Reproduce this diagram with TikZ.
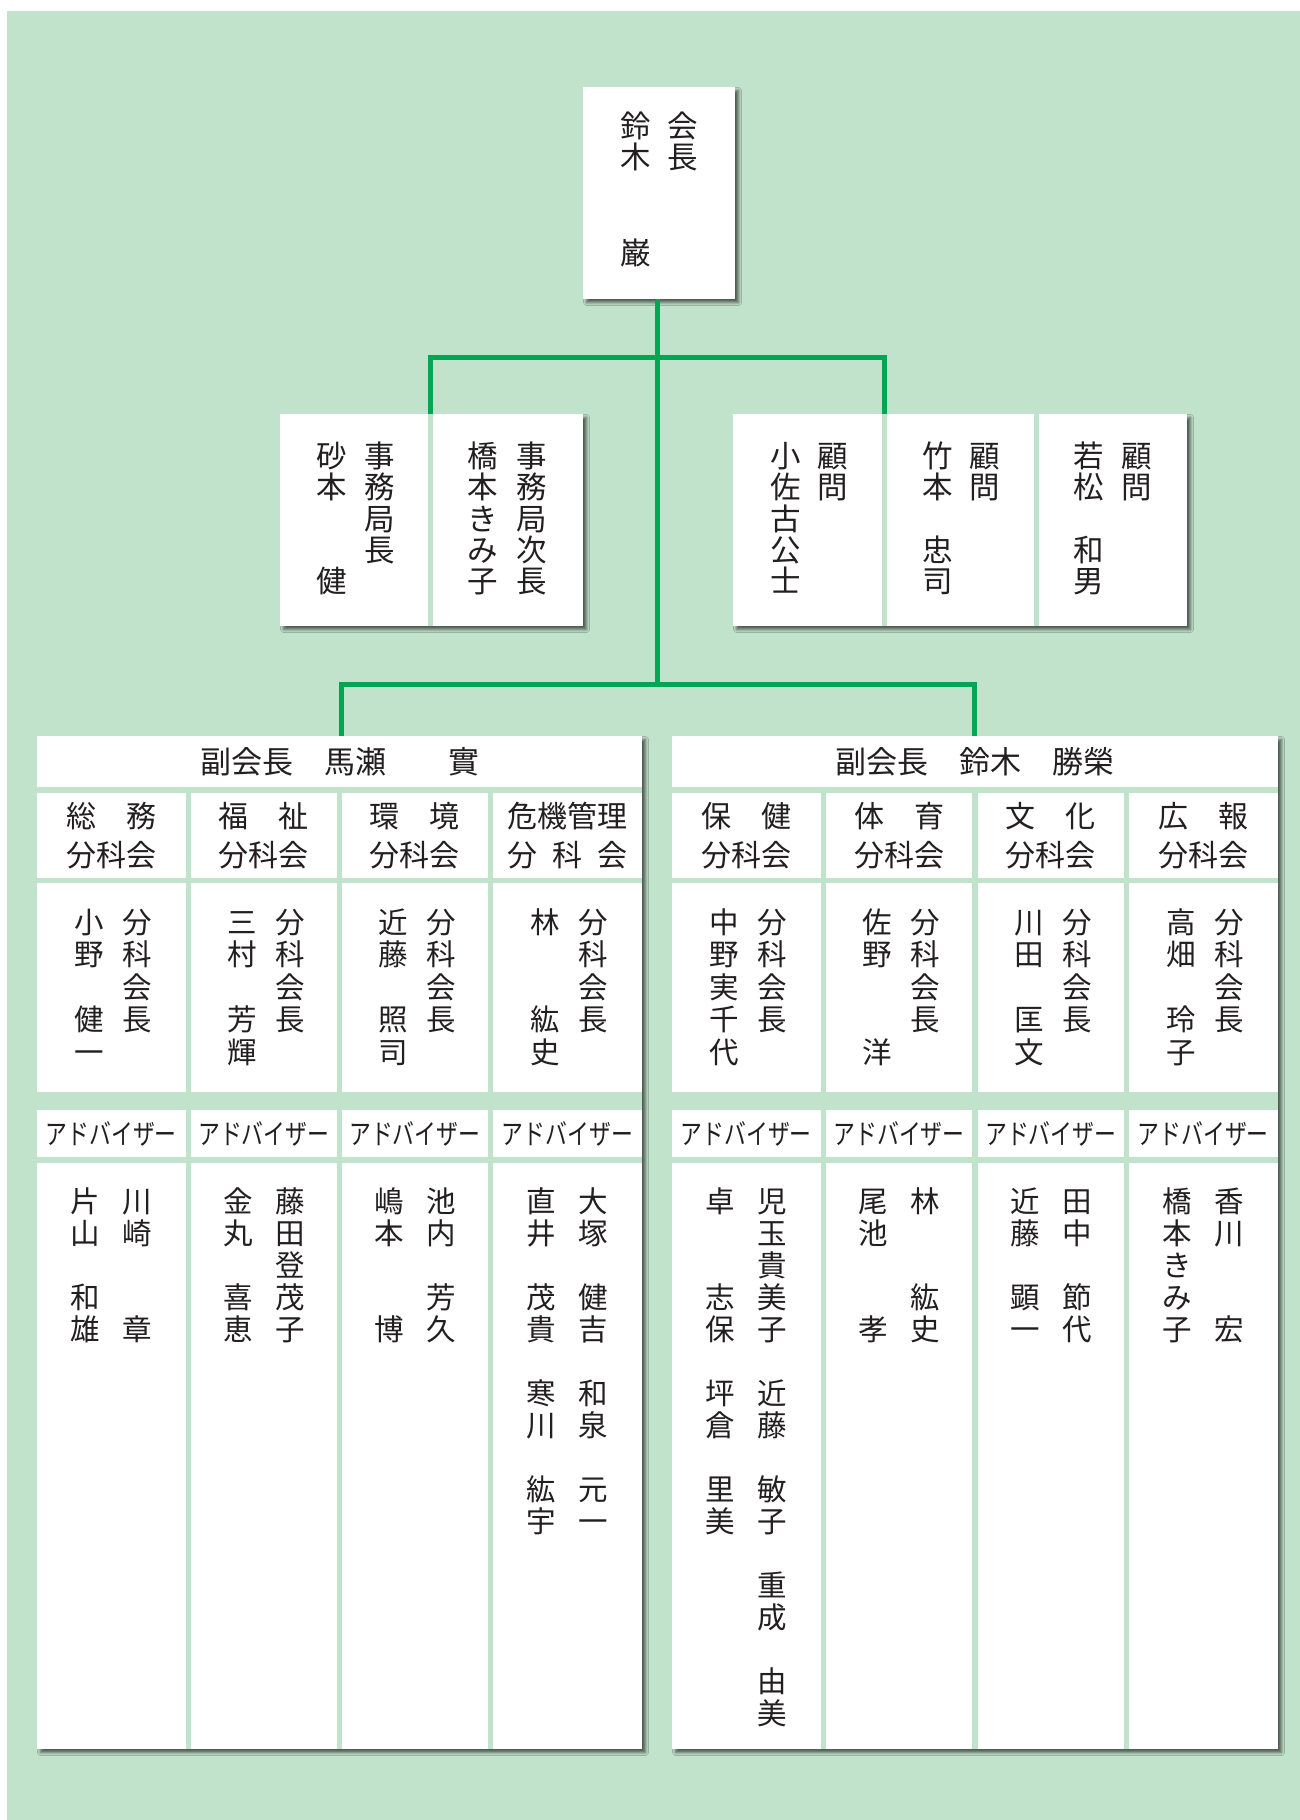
\documentclass[tikz,border=0pt]{standalone}
\usepackage{fontspec}
\newfontfamily\jp{Noto Sans CJK JP}
\usetikzlibrary{shadows.blur}
\definecolor{bgc}{RGB}{193,226,203}
\definecolor{lnc}{RGB}{0,166,81}
\definecolor{txc}{RGB}{35,31,32}
\def\fs{30.5}
\def\vfont{\jp\fontsize{\fs pt}{\fs pt}\selectfont}
\newcommand\vchars[1]{\ifx#1\relax\else\hbox to 1em{\hss\rule[-.12em]{0pt}{1em}#1\hss}\expandafter\vchars\fi}
% vertical column: name, x, y of first char centre, pitch, chars
\newcommand\vt[5]{\node[anchor=base,font=\vfont] (#1) at (#2,{#3+0.38*\fs}) {\vtop{\baselineskip=#4pt\lineskiplimit=-100pt\lineskip=0pt\vchars#5\relax}};}
% horizontal text: name, x, y centre, text
\newcommand\htx[4]{\node[anchor=base,font=\vfont] (#1) at (#2,{#3+0.38*\fs}) {#4};}
\begin{document}
\begin{tikzpicture}[x=1pt,y=-1pt,
  every node/.style={inner sep=0pt,outer sep=0pt,text=txc},
  box/.style={fill=white,draw=none,blur shadow={shadow xshift=3.5pt,shadow yshift=-3.5pt,shadow blur radius=3pt,shadow opacity=60}},
  conn/.style={draw=lnc,line width=5pt,line join=miter},
  sep/.style={fill=bgc}]
\useasboundingbox (0,0) rectangle (1300,1820);
\fill[white] (0,0) rectangle (1300,1820);
\fill[bgc] (7,11) rectangle (1300,1820);

% ---------- boxes ----------
\node[box,minimum width=152pt,minimum height=212pt] (top) at (659,193) {};
\node[box,minimum width=303pt,minimum height=212pt] (sec) at (431.5,520) {};
\node[box,minimum width=454pt,minimum height=212pt] (adv) at (960,520) {};
\node[box,minimum width=605pt,minimum height=1013pt] (vpL) at (339.5,1242.5) {};
\node[box,minimum width=606pt,minimum height=1013pt] (vpR) at (975,1242.5) {};

% dividers of upper boxes
\fill[sep] (428,414) rectangle (433,626);
\fill[sep] (882,414) rectangle (887,626);
\fill[sep] (1033.5,414) rectangle (1038.5,626);

% bands of lower boxes
\foreach \xa/\xb in {37/642,672/1278}{
  \fill[sep] (\xa,787) rectangle (\xb,792.5);
  \fill[sep] (\xa,877.5) rectangle (\xb,883);
  \fill[sep] (\xa,1091.5) rectangle (\xb,1110);
  \fill[sep] (\xa,1156.5) rectangle (\xb,1162.5);
}
\foreach \xa in {185.5,336.5,487.5,820.5,972,1123.5}{
  \fill[sep] (\xa,792) rectangle ({\xa+5.5},1749);
}

% ---------- connectors ----------
\coordinate (j1) at (657.5,357.5);
\coordinate (j2) at (657.5,684);
\coordinate (t0) at (top.south -| j1);
\coordinate (secA) at (430.5,414);
\coordinate (advA) at (884.5,414);
\coordinate (vpLA) at (341,736);
\coordinate (vpRA) at (974.5,736);
\draw[conn] (t0) -- (j2);
\draw[conn] (secA) |- (j1) -| (advA);
\draw[conn] (vpLA) |- (j2) -| (vpRA);

% ---------- top box ----------
\def\fs{30.5}
\vt{tA}{683}{126}{31}{会長}
\vt{tB}{636}{126}{31}{鈴木}
\vt{tC}{636}{253}{31}{巌}

% ---------- secretariat ----------
\vt{sA}{380}{456}{31.3}{事務局長}
\vt{sB}{331.7}{456}{31.3}{砂本}
\vt{sC}{331.7}{581.2}{31.3}{健}
\vt{sD}{531.7}{456}{31.3}{事務局次長}
\vt{sE}{483}{456}{31.3}{橋本きみ子}

% ---------- advisers (顧問) ----------
\vt{aA}{833}{456}{31.3}{顧問}
\vt{aB}{786}{456}{31.3}{小佐古公士}
\vt{aC}{985}{456}{31.3}{顧問}
\vt{aD}{937.3}{456}{31.3}{竹本}
\vt{aE}{937.3}{549.9}{31.3}{忠司}
\vt{aF}{1136.7}{456}{31.3}{顧問}
\vt{aG}{1088.3}{456}{31.3}{若松}
\vt{aH}{1088.3}{549.9}{31.3}{和男}

% ---------- vice presidents ----------
\def\fs{31}
\htx{hL}{339.5}{762}{副会長　馬瀬　　實}
\htx{hR}{975}{762}{副会長　鈴木　勝榮}

% ---------- subcommittee names ----------
\def\fs{30}
\htx{k1a}{111.25}{816.5}{総　務}\htx{k1b}{111.25}{855}{分科会}
\htx{k2a}{263.75}{816.5}{福　祉}\htx{k2b}{263.75}{855}{分科会}
\htx{k3a}{414.75}{816.5}{環　境}\htx{k3b}{414.75}{855}{分科会}
\htx{k4a}{567.5}{816.5}{危機管理}\htx{k4b}{567.5}{855}{分\hspace{.5em}科\hspace{.5em}会}
\htx{k5a}{746.25}{816.5}{保　健}\htx{k5b}{746.25}{855}{分科会}
\htx{k6a}{899}{816.5}{体　育}\htx{k6b}{899}{855}{分科会}
\htx{k7a}{1050.75}{816.5}{文　化}\htx{k7b}{1050.75}{855}{分科会}
\htx{k8a}{1203.25}{816.5}{広　報}\htx{k8b}{1203.25}{855}{分科会}

% ---------- chairs ----------
\def\fs{29.5}
\foreach \t/\x in {c1/137.25,c2/289.75,c3/440.75,c4/593.5,c5/772.25,c6/925,c7/1076.75,c8/1229.25}{
  \vt{\t t}{\x}{922}{32.5}{分科会長}
}
\vt{c1n}{89.25}{922}{32.5}{小野}\vt{c1m}{89.25}{1019.5}{32.5}{健一}
\vt{c2n}{241.75}{922}{32.5}{三村}\vt{c2m}{241.75}{1019.5}{32.5}{芳輝}
\vt{c3n}{392.75}{922}{32.5}{近藤}\vt{c3m}{392.75}{1019.5}{32.5}{照司}
\vt{c4n}{545.5}{922}{32.5}{林}\vt{c4m}{545.5}{1019.5}{32.5}{紘史}
\vt{c5n}{724.25}{922}{32.5}{中野実千代}
\vt{c6n}{877}{922}{32.5}{佐野}\vt{c6m}{877}{1052}{32.5}{洋}
\vt{c7n}{1028.75}{922}{32.5}{川田}\vt{c7m}{1028.75}{1019.5}{32.5}{匡文}
\vt{c8n}{1181.25}{922}{32.5}{高畑}\vt{c8m}{1181.25}{1019.5}{32.5}{玲子}

% ---------- adviser headers ----------
\def\fs{28}
\foreach \t/\x in {d1/111.25,d2/263.75,d3/414.75,d4/567.5,d5/746.25,d6/899,d7/1050.75,d8/1203.25}{
  \htx{\t}{\x}{1134}{\scalebox{0.78}[1]{アドバイザー}}
}

% ---------- adviser names ----------
\def\fs{29.5}
% column 1
\vt{e1a}{85.25}{1201.5}{32}{片山}\vt{e1b}{85.25}{1297.5}{32}{和雄}
\vt{e1c}{137.25}{1201.5}{32}{川崎}\vt{e1d}{137.25}{1329.5}{32}{章}
% column 2
\vt{e2a}{237.75}{1201.5}{32}{金丸}\vt{e2b}{237.75}{1297.5}{32}{喜恵}
\vt{e2c}{289.75}{1201.5}{32}{藤田登茂子}
% column 3
\vt{e3a}{388.75}{1201.5}{32}{嶋本}\vt{e3b}{388.75}{1329.5}{32}{博}
\vt{e3c}{440.75}{1201.5}{32}{池内}\vt{e3d}{440.75}{1297.5}{32}{芳久}
% column 4
\vt{e4a}{541.5}{1201.5}{32}{直井}\vt{e4b}{541.5}{1297.5}{32}{茂貴}
\vt{e4c}{541.5}{1393.5}{32}{寒川}\vt{e4d}{541.5}{1489.5}{32}{紘宇}
\vt{e4e}{593.5}{1201.5}{32}{大塚}\vt{e4f}{593.5}{1297.5}{32}{健吉}
\vt{e4g}{593.5}{1393.5}{32}{和泉}\vt{e4h}{593.5}{1489.5}{32}{元一}
% column 5
\vt{e5a}{720.25}{1201.5}{32}{卓}\vt{e5b}{720.25}{1297.5}{32}{志保}
\vt{e5c}{720.25}{1393.5}{32}{坪倉}\vt{e5d}{720.25}{1489.5}{32}{里美}
\vt{e5e}{772.25}{1201.5}{32}{児玉貴美子}
\vt{e5f}{772.25}{1393.5}{32}{近藤}\vt{e5g}{772.25}{1489.5}{32}{敏子}
\vt{e5h}{772.25}{1585.5}{32}{重成}\vt{e5i}{772.25}{1681.5}{32}{由美}
% column 6
\vt{e6a}{873}{1201.5}{32}{尾池}\vt{e6b}{873}{1329.5}{32}{孝}
\vt{e6c}{925}{1201.5}{32}{林}\vt{e6d}{925}{1297.5}{32}{紘史}
% column 7
\vt{e7a}{1024.75}{1201.5}{32}{近藤}\vt{e7b}{1024.75}{1297.5}{32}{顕一}
\vt{e7c}{1076.75}{1201.5}{32}{田中}\vt{e7d}{1076.75}{1297.5}{32}{節代}
% column 8
\vt{e8a}{1177.25}{1201.5}{32}{橋本きみ子}
\vt{e8b}{1229.25}{1201.5}{32}{香川}\vt{e8c}{1229.25}{1329.5}{32}{宏}
\end{tikzpicture}
\end{document}
